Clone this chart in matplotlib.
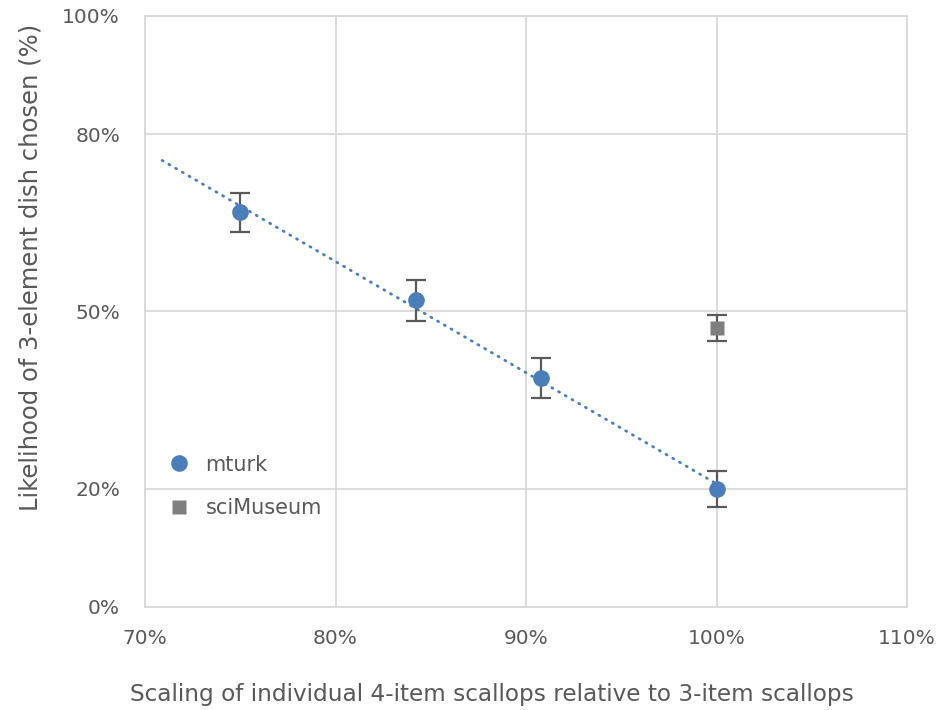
import numpy as np
import matplotlib.pyplot as plt

# mturk points (scaling %, likelihood %, error %)
mturk_x = [75.0, 84.2, 90.8, 100.0]
mturk_y = [66.8, 51.9, 38.7, 20.0]
mturk_err = [3.3, 3.5, 3.4, 3.0]

sci_x = [100.0]
sci_y = [47.2]
sci_err = [2.2]

trend_start = 70.9

yticks = [0, 20, 50, 80, 100]
xticks = [70, 80, 90, 100, 110]

blue = '#4A7EBB'
gray = '#7F7F7F'
dark = '#595959'
grid = '#D9D9D9'

plt.rcParams['font.family'] = ['DejaVu Sans']
fig = plt.figure(figsize=(9.41, 7.10), dpi=100)
ax = fig.add_axes([0.1541, 0.1451, 0.8098, 0.8324])

# trendline from linear fit of mturk data
slope, icpt = np.polyfit(mturk_x, mturk_y, 1)
tx = np.array([trend_start, max(mturk_x)])
ax.plot(tx, slope * tx + icpt, color=blue, lw=2.0, linestyle=(0, (0.4, 2.4)),
        dash_capstyle='round', zorder=2)

ax.errorbar(mturk_x, mturk_y, yerr=mturk_err, fmt='none', ecolor=dark,
            elinewidth=1.6, capsize=7, capthick=1.6, zorder=3)
ax.errorbar(sci_x, sci_y, yerr=sci_err, fmt='none', ecolor=dark,
            elinewidth=1.6, capsize=7, capthick=1.6, zorder=3)

ax.plot(mturk_x, mturk_y, 'o', color=blue, ms=12, mec='none', zorder=4, label='mturk')
ax.plot(sci_x, sci_y, 's', color=gray, ms=10.5, mec='none', zorder=4, label='sciMuseum')

ax.set_xlim(70, 110)
ax.set_ylim(0, 100)
ax.set_xticks(xticks)
ax.set_yticks(yticks)
ax.set_xticklabels([f'{v}%' for v in xticks])
ax.set_yticklabels([f'{v}%' for v in yticks])
ax.grid(True, color=grid, lw=1.3)
ax.set_axisbelow(True)
for s in ax.spines.values():
    s.set_color(grid)
    s.set_linewidth(1.3)
ax.tick_params(length=0, labelsize=14.5, colors=dark)
ax.tick_params(axis='y', pad=18)
ax.tick_params(axis='x', pad=16)

ax.set_xlabel('Scaling of individual 4-item scallops relative to 3-item scallops',
              fontsize=16.7, color=dark, labelpad=25, x=0.455)
ax.set_ylabel('Likelihood of 3-element dish chosen (%)', fontsize=17.5, color=dark,
              labelpad=14, y=0.574)

leg = ax.legend(loc='lower left', bbox_to_anchor=(0.0, 0.118), frameon=False, fontsize=15,
                labelcolor=dark, labelspacing=1.15, handletextpad=0.5, handlelength=1.5)

fig.savefig('out.png', dpi=100)
